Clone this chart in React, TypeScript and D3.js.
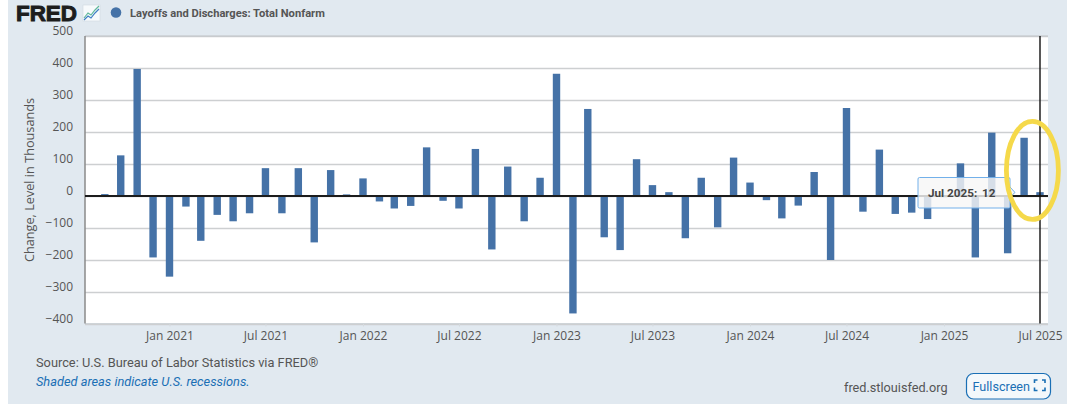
import * as d3 from "d3";
import { useEffect, useRef } from "react";

const months = d3.utcMonth.range(new Date(Date.UTC(2020, 8, 1)), new Date(Date.UTC(2025, 7, 1)));
// monthly change, thousands, Sep 2020 .. Jul 2025
const values = [
  6, 127, 397, -192,
  -252, -33, -140, -59, -79, -54, 87, -54, 87, -145, 81, 5,
  55, -17, -39, -31, 152, -15, -39, 147, -167, 92, -79, 57,
  382, -367, 272, -129, -169, 115, 34, 12, -132, 57, -98, 120,
  42, -13, -70, -30, 75, -200, 275, -49, 145, -56, -52, -72,
  -4, 102, -192, 198, -179, 182, 12,
];
const yTicks = [500, 400, 300, 200, 100, 0, -100, -200, -300, -400];
const xTicks = [
  [2021, 0], [2021, 6], [2022, 0], [2022, 6], [2023, 0], [2023, 6], [2024, 0], [2024, 6], [2025, 0], [2025, 6],
].map(([y, m]) => new Date(Date.UTC(y, m, 1)));
const seriesName = "Layoffs and Discharges: Total Nonfarm";
const tooltipLabel = "Jul 2025:";
const tooltipValue = "12";

const width = 1067;
const height = 404;
const plot = { left: 85, right: 1048, top: 36, bottom: 323.5 };
const blue = "#4572a7";
const uiFont = "Roboto, sans-serif";
const axisFont = "'Open Sans', sans-serif";

function App() {
  const ref = useRef<SVGSVGElement>(null);

  useEffect(() => {
    const svg = d3.select(ref.current);
    svg.selectAll("*").remove();

    const x = d3
      .scaleUtc()
      .domain([new Date(Date.UTC(2021, 0, 1)), new Date(Date.UTC(2025, 6, 1))])
      .range([169.5, 1040]);
    const y = d3.scaleLinear().domain([-400, 500]).range([324, 36]);

    svg.append("rect").attr("x", 8).attr("width", width - 8).attr("height", height).attr("fill", "#e1e9f0");
    svg
      .append("rect")
      .attr("x", plot.left)
      .attr("y", plot.top)
      .attr("width", plot.right - plot.left)
      .attr("height", plot.bottom - plot.top)
      .attr("fill", "#fff");

    // grid + y labels
    const yAxis = svg
      .append("g")
      .attr("transform", `translate(${plot.left},0)`)
      .call(d3.axisLeft(y).tickValues(yTicks).tickSize(-(plot.right - plot.left)).tickPadding(12));
    yAxis.select(".domain").remove();
    yAxis.selectAll("line").attr("stroke", "#cdcfd1").attr("stroke-width", 1.5);
    yAxis
      .selectAll("text")
      .attr("font-family", axisFont)
      .attr("font-size", 12)
      .attr("fill", "#555")
      .attr("dy", "-0.15em");

    // x axis
    const xAxis = svg
      .append("g")
      .attr("transform", `translate(0,${plot.bottom})`)
      .call(d3.axisBottom(x).tickValues(xTicks).tickFormat(d3.utcFormat("%b %Y") as any).tickSize(3).tickPadding(5));
    xAxis.select(".domain").remove();
    xAxis.selectAll("line").attr("stroke", "#d5dade");
    xAxis
      .selectAll("text")
      .attr("font-family", axisFont)
      .attr("font-size", 12)
      .attr("fill", "#555");

    // plot border
    svg
      .append("line")
      .attr("x1", plot.left)
      .attr("x2", plot.right)
      .attr("y1", plot.top)
      .attr("y2", plot.top)
      .attr("stroke", "#c4c8cb")
      .attr("stroke-width", 1.2);
    svg
      .append("line")
      .attr("x1", plot.left)
      .attr("x2", plot.right)
      .attr("y1", plot.bottom)
      .attr("y2", plot.bottom)
      .attr("stroke", "#cfd4d8")
      .attr("stroke-width", 1.2);
    svg
      .append("line")
      .attr("x1", plot.left)
      .attr("x2", plot.left)
      .attr("y1", plot.top)
      .attr("y2", plot.bottom)
      .attr("stroke", "#8a8a8a")
      .attr("stroke-width", 1.5);

    // bars
    const barWidth = 7.4;
    svg
      .append("g")
      .selectAll("rect")
      .data(values)
      .join("rect")
      .attr("x", (_, i) => x(months[i]) - barWidth / 2)
      .attr("y", (d) => Math.min(y(d), y(0)))
      .attr("width", barWidth)
      .attr("height", (d) => Math.abs(y(d) - y(0)))
      .attr("fill", blue);

    // zero line and crosshair
    svg
      .append("line")
      .attr("x1", plot.left)
      .attr("x2", plot.right)
      .attr("y1", y(0))
      .attr("y2", y(0))
      .attr("stroke", "#1c1c1c")
      .attr("stroke-width", 2);
    const lastX = x(months[months.length - 1]);
    svg
      .append("line")
      .attr("x1", lastX)
      .attr("x2", lastX)
      .attr("y1", plot.top)
      .attr("y2", plot.bottom)
      .attr("stroke", "#111")
      .attr("stroke-width", 1.4);

    // y title
    svg
      .append("text")
      .attr("transform", "translate(34,180) rotate(-90)")
      .attr("text-anchor", "middle")
      .attr("font-family", axisFont)
      .attr("font-size", 12.7)
      .attr("fill", "#555")
      .text("Change, Level in Thousands");

    // logo
    svg
      .append("text")
      .attr("x", 16)
      .attr("y", 21)
      .attr("font-family", "'Liberation Sans', sans-serif")
      .attr("font-weight", 700)
      .attr("font-size", 22.5)
      .attr("textLength", 61)
      .attr("lengthAdjust", "spacingAndGlyphs")
      .attr("stroke", "#1d1d1d")
      .attr("stroke-width", 1)
      .attr("fill", "#1d1d1d")
      .text("FRED");
    const logo = svg.append("g").attr("transform", "translate(83,5)");
    logo.append("rect").attr("width", 17).attr("height", 16).attr("fill", "#f7fafc").attr("stroke", "#cfd9e0").attr("stroke-width", 0.6);
    logo
      .append("polyline")
      .attr("points", "1,13 5,8 8,10 12,5 16,1")
      .attr("fill", "none")
      .attr("stroke", "#5fb89a")
      .attr("stroke-width", 1.2);
    logo
      .append("polyline")
      .attr("points", "1,15 5,11 8,13 12,8 16,4")
      .attr("fill", "none")
      .attr("stroke", "#3f7fc4")
      .attr("stroke-width", 1.2);

    // legend
    svg.append("circle").attr("cx", 116).attr("cy", 12.5).attr("r", 5.3).attr("fill", blue);
    svg
      .append("text")
      .attr("x", 130)
      .attr("y", 17)
      .attr("font-family", uiFont)
      .attr("font-weight", 700)
      .attr("font-size", 11.15)
      .attr("fill", "#555")
      .text(seriesName);

    // footer
    svg
      .append("text")
      .attr("x", 36)
      .attr("y", 367)
      .attr("font-family", uiFont)
      .attr("font-size", 12.8)
      .attr("fill", "#555")
      .text("Source: U.S. Bureau of Labor Statistics via FRED®");
    svg
      .append("text")
      .attr("x", 36)
      .attr("y", 386)
      .attr("font-family", uiFont)
      .attr("font-style", "italic")
      .attr("font-size", 12.8)
      .attr("fill", "#1a6fb5")
      .text("Shaded areas indicate U.S. recessions.");
    svg
      .append("text")
      .attr("x", 844)
      .attr("y", 392)
      .attr("font-family", uiFont)
      .attr("font-size", 12.7)
      .attr("fill", "#555")
      .text("fred.stlouisfed.org");

    // fullscreen button
    svg
      .append("rect")
      .attr("x", 966.5)
      .attr("y", 373.5)
      .attr("width", 84)
      .attr("height", 25.5)
      .attr("rx", 7)
      .attr("fill", "#f4f8fb")
      .attr("stroke", "#1a6fb5")
      .attr("stroke-width", 1.2);
    svg
      .append("text")
      .attr("x", 972.5)
      .attr("y", 390.5)
      .attr("font-family", uiFont)
      .attr("font-size", 12.6)
      .attr("fill", "#1a6fb5")
      .text("Fullscreen");
    const corners = ["M1034.5,383V380H1037.5", "M1042,380H1045V383", "M1034.5,387.5V390.5H1037.5", "M1042,390.5H1045V387.5"];
    svg
      .append("g")
      .selectAll("path")
      .data(corners)
      .join("path")
      .attr("d", (d) => d)
      .attr("fill", "none")
      .attr("stroke", "#1a6fb5")
      .attr("stroke-width", 1.6);

    // tooltip
    svg
      .append("path")
      .attr("d", "M919.5,177.5H1008.5a1.5,1.5 0 0 1 1.5,1.5V187L1015,192.5L1010,197V206.5a1.5,1.5 0 0 1 -1.5,1.5H919.5a1.5,1.5 0 0 1 -1.5,-1.5V179a1.5,1.5 0 0 1 1.5,-1.5Z")
      .attr("fill", "rgba(247,247,247,0.82)")
      .attr("stroke", "#72b0ea")
      .attr("stroke-width", 1);
    svg
      .append("text")
      .attr("x", 928)
      .attr("y", 197)
      .attr("font-family", uiFont)
      .attr("font-weight", 700)
      .attr("font-size", 11.7)
      .attr("fill", "#444")
      .text(tooltipLabel);
    svg
      .append("text")
      .attr("x", 982)
      .attr("y", 197)
      .attr("font-family", uiFont)
      .attr("font-weight", 700)
      .attr("font-size", 11.7)
      .attr("fill", "#444")
      .text(tooltipValue);

    // hand-drawn highlight
    svg
      .append("ellipse")
      .attr("cx", 1032.4)
      .attr("cy", 170.4)
      .attr("rx", 26)
      .attr("ry", 49)
      .attr("fill", "none")
      .attr("stroke", "#f5d94a")
      .attr("stroke-width", 4.8);
  }, []);

  return (
    <svg
      ref={ref}
      width={width}
      height={height}
      style={{ position: "absolute", left: 0, top: 0, display: "block" }}
    />
  );
}

export default App;
